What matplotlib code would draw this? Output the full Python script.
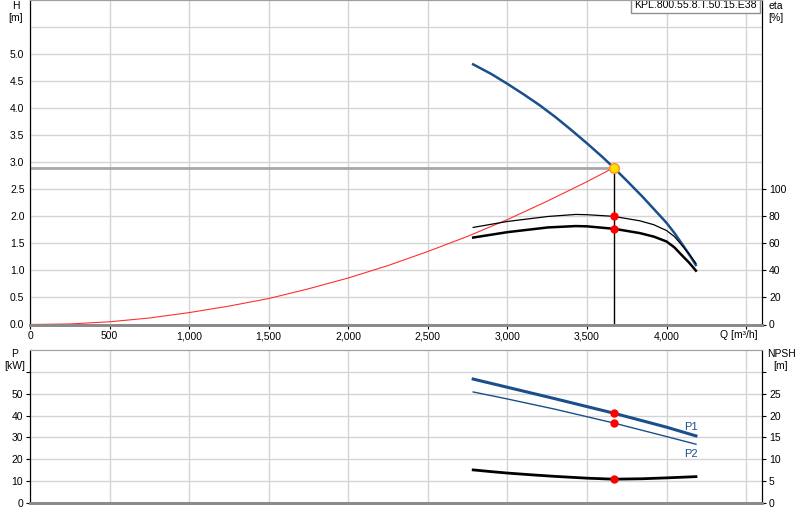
import matplotlib
matplotlib.use("Agg")
import matplotlib.pyplot as plt
from matplotlib.ticker import FuncFormatter

plt.rcParams['font.family'] = ['Liberation Sans', 'DejaVu Sans']
plt.rcParams['font.size'] = 7.5

# pump curve (Q in m3/h)
q_pump = [2785, 2900, 3000, 3100, 3200, 3300, 3400, 3500, 3600, 3668,
          3750, 3850, 3950, 4000, 4050, 4100, 4150, 4184]
head = [4.81, 4.63, 4.45, 4.26, 4.06, 3.84, 3.60, 3.35, 3.09, 2.90,
        2.66, 2.36, 2.04, 1.88, 1.69, 1.48, 1.26, 1.10]

q_eta = [2785, 3000, 3255, 3430, 3500, 3668, 3706, 3832, 3920, 4000,
         4050, 4094, 4140, 4185]
eta_hyd = [71.8, 76.2, 79.9, 81.4, 81.2, 80.0, 79.2, 76.7, 73.8, 69.5,
           65.0, 58.9, 52.5, 45.2]
eta_tot = [64.3, 68.3, 71.8, 72.8, 72.6, 70.8, 70.1, 67.6, 65.0, 61.4,
           57.0, 51.5, 46.0, 39.8]

# system curve
q_sys = [0, 250, 500, 750, 1000, 1250, 1500, 1750, 2000, 2250, 2500,
         2750, 3000, 3250, 3500, 3668]
h_sys = [0.0, 0.01, 0.05, 0.12, 0.22, 0.34, 0.48, 0.66, 0.86, 1.09, 1.35,
         1.63, 1.94, 2.28, 2.64, 2.90]

# power and npsh
q_pow = [2785, 3000, 3300, 3668, 4000, 4185]
p1 = [56.7, 52.95, 47.7, 41.1, 34.7, 30.7]
p2 = [50.8, 47.6, 42.9, 36.6, 30.4, 26.9]
q_npsh = [2785, 2900, 3000, 3150, 3300, 3500, 3668, 3850, 4000, 4185]
npsh = [7.57, 7.17, 6.85, 6.45, 6.09, 5.68, 5.45, 5.55, 5.75, 6.03]

# duty point
q_duty = 3668
h_duty = 2.90
eta_hyd_duty = 80.0
eta_tot_duty = 70.8
p1_duty = 41.1
p2_duty = 36.6
npsh_duty = 5.45

title = "KPL.800.55.8.T.50.15.E38"

blue = '#1b4f8c'
grid_c = '#d4d4d4'

fig = plt.figure(figsize=(8, 5.2), dpi=100)
ax = fig.add_axes([30/800, 1 - 324.5/520, 732/800, 324.5/520])
ax_eta = ax.twinx()
axb = fig.add_axes([30/800, 1 - 503/520, 732/800, 153/520])
axb_n = axb.twinx()

# --- top chart ---
ax.set_xlim(0, 4600)
ax.set_ylim(0, 6.0)
ax_eta.set_ylim(0, 240)
ax.set_xticks(range(0, 4501, 500))
ax.set_yticks([i * 0.5 for i in range(12)])
ax.xaxis.set_major_formatter(FuncFormatter(
    lambda v, p: f"{int(v):,}" if v <= 4000 else ""))
ax.yaxis.set_major_formatter(FuncFormatter(
    lambda v, p: f"{v:.1f}" if v <= 5.0 else ""))
ax.grid(True, color=grid_c, lw=1)
ax.set_axisbelow(True)
ax.tick_params(axis='y', length=0, pad=4)
ax.tick_params(axis='x', length=3, pad=2)
ax_eta.set_yticks(range(0, 101, 20))
ax_eta.tick_params(axis='y', length=3, pad=2)

ax.plot([0, q_duty], [h_duty, h_duty], color='#a8a8a8', lw=2, zorder=2)
ax.plot([q_duty, q_duty], [0, h_duty], color='black', lw=1, zorder=2)
ax.plot(q_sys, h_sys, color='#ff3030', lw=0.8, zorder=3)
ax.plot(q_pump, head, color=blue, lw=1.8, zorder=4)
ax_eta.plot(q_eta, eta_hyd, color='black', lw=0.9, zorder=4)
ax_eta.plot(q_eta, eta_tot, color='black', lw=1.8, zorder=4)
ax_eta.plot([q_duty, q_duty], [eta_hyd_duty, eta_tot_duty], 'o',
            color='#ff0000', ms=5, zorder=5)
ax_eta.plot(q_duty, h_duty * 40, 'o', mfc='#ffe000', mec='#ff9020',
            ms=7, mew=1, zorder=6)

ax.text(4570, -0.1, "Q [m³/h]", ha='right', va='top', fontsize=7.5)
ax.text(0.993, 0.9995, title, transform=ax.transAxes, ha='right', va='top',
        fontsize=7.6,
        bbox=dict(boxstyle='square,pad=0.3', fc='white', ec='#909090', lw=1))

# --- bottom chart ---
axb.set_xlim(0, 4600)
axb.set_ylim(0, 70)
axb_n.set_ylim(0, 35)
axb.set_xticks(range(0, 4501, 500))
axb.set_xticklabels([])
axb.tick_params(axis='x', length=0)
axb.set_yticks(range(0, 61, 10))
axb.yaxis.set_major_formatter(FuncFormatter(
    lambda v, p: f"{int(v)}" if v <= 50 else ""))
axb_n.set_yticks(range(0, 31, 5))
axb_n.yaxis.set_major_formatter(FuncFormatter(
    lambda v, p: f"{int(v)}" if v <= 25 else ""))
axb.tick_params(axis='y', length=3, pad=2)
axb_n.tick_params(axis='y', length=3, pad=2)
axb.grid(True, color=grid_c, lw=1)
axb.set_axisbelow(True)

axb.plot(q_pow, p1, color=blue, lw=2.2, zorder=4)
axb.plot(q_pow, p2, color=blue, lw=1.0, zorder=4)
axb_n.plot(q_npsh, npsh, color='black', lw=2.0, zorder=4)
axb.plot([q_duty, q_duty], [p1_duty, p2_duty], 'o', color='#ff0000',
         ms=5, zorder=5)
axb_n.plot(q_duty, npsh_duty, 'o', color='#ff0000', ms=5, zorder=5)
axb.text(q_pow[-1] - 30, p1[-1] + 2, "P1", color=blue, fontsize=8,
         ha='center', va='bottom')
axb.text(q_pow[-1] - 30, p2[-1] - 2, "P2", color=blue, fontsize=8,
         ha='center', va='top')

# spines
for a in (ax, ax_eta, axb, axb_n):
    a.spines['top'].set_color('#a0a0a0')
    a.spines['bottom'].set_color('#8a8a8a')
    a.spines['bottom'].set_linewidth(2)
    a.spines['left'].set_color('black')
    a.spines['right'].set_color('black')

# axis titles
fig.text(16/800, 1 - 1/520, "H\n[m]", ha='center', va='top', fontsize=7.5,
         linespacing=1.3)
fig.text(776/800, 1 - 1/520, "eta\n[%]", ha='center', va='top', fontsize=7.5,
         linespacing=1.3)
fig.text(15/800, 1 - 349/520, "P\n[kW]", ha='center', va='top', fontsize=7.5,
         linespacing=1.3)
fig.text(781/800, 1 - 349/520, "NPSH\n[m]", ha='center', va='top',
         fontsize=7.5, linespacing=1.3)

fig.savefig("out.png", dpi=100)
